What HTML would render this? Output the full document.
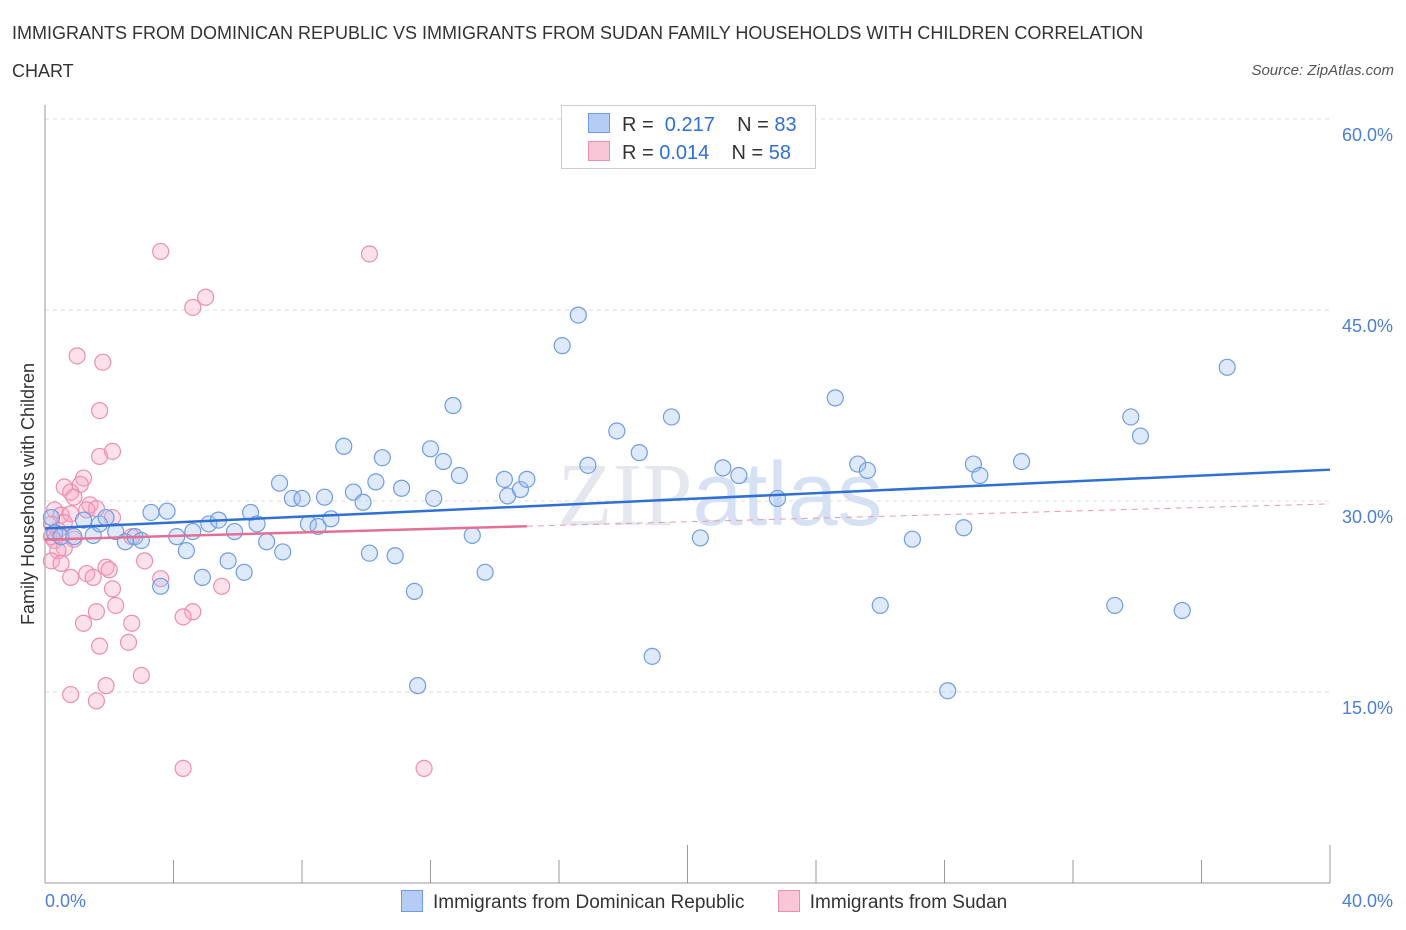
<!DOCTYPE html>
<html><head><meta charset="utf-8"><style>
body{margin:0;background:#fff;font-family:"Liberation Sans",sans-serif;}
.t{position:absolute;}
</style></head><body>
<div style="position:relative;width:1406px;height:930px;overflow:hidden">
<div class="t" style="left:12px;top:14px;font-size:18px;color:#333;line-height:38px;width:1180px">IMMIGRANTS FROM DOMINICAN REPUBLIC VS IMMIGRANTS FROM SUDAN FAMILY HOUSEHOLDS WITH CHILDREN CORRELATION CHART</div>
<div class="t" style="right:12px;top:62px;font-size:15px;color:#555;font-style:italic">Source: ZipAtlas.com</div>
<svg id="svg" width="1406" height="930" style="position:absolute;left:0;top:0"></svg>
</div>
<script>
const yTicks=[15,30,45,60];
const xTickLabels=["0.0%","40.0%"];
const blueX=[0.2,0.3,0.5,0.9,1.2,1.5,1.7,1.9,2.2,2.5,2.8,3.0,3.3,3.6,3.8,4.1,4.4,4.6,4.9,5.1,5.4,5.7,5.9,6.2,6.4,6.6,6.9,7.3,7.4,7.7,8.0,8.2,8.5,8.7,8.9,9.3,9.6,9.9,10.1,10.3,10.5,10.9,11.1,11.5,11.6,12.0,12.1,12.4,12.7,12.9,13.3,13.7,14.3,14.4,14.8,15.0,16.1,16.6,16.9,17.8,18.5,18.9,19.5,20.4,21.1,21.6,22.8,24.6,25.3,25.6,26.0,27.0,28.1,28.6,28.9,29.1,30.4,33.3,33.8,34.1,35.4,36.8];
const blueY=[28.7,27.5,27.2,27.2,28.5,27.3,28.2,28.7,27.6,26.8,27.2,26.9,29.1,23.3,29.2,27.2,26.1,27.6,24.0,28.2,28.5,25.3,27.6,24.4,29.1,28.2,26.8,31.4,26.0,30.2,30.2,28.2,28.0,30.3,28.6,34.3,30.7,29.9,25.9,31.5,33.4,25.7,31.0,22.9,15.5,34.1,30.2,33.1,37.5,32.0,27.3,24.4,31.7,30.4,30.9,31.7,42.2,44.6,32.8,35.5,33.8,17.8,36.6,27.1,32.6,32.0,30.2,38.1,32.9,32.4,21.8,27.0,15.1,27.9,32.9,32.0,33.1,21.8,36.6,35.1,21.4,40.5];
const pinkX=[3.6,10.1,5.0,4.6,1.0,1.8,1.7,2.1,1.7,1.2,1.1,0.6,0.8,0.9,1.4,1.6,1.3,0.3,0.5,0.8,2.1,0.2,0.4,0.2,0.3,2.7,0.6,0.4,0.2,0.5,3.1,1.9,2.0,1.3,1.5,0.8,3.6,5.5,2.1,2.2,1.6,4.6,4.3,2.7,1.2,2.6,1.7,3.0,1.9,0.8,1.6,4.3,11.8,0.6,0.9];
const pinkY=[49.6,49.4,46.0,45.2,41.4,40.9,37.1,33.9,33.5,31.8,31.3,31.1,30.7,30.3,29.7,29.4,29.3,29.3,28.9,29.0,28.7,28.2,27.7,27.2,26.9,27.2,26.3,26.1,25.3,25.1,25.3,24.8,24.6,24.3,24.0,24.0,23.9,23.3,23.1,21.8,21.3,21.3,20.9,20.4,20.4,18.9,18.6,16.3,15.5,14.8,14.3,9.0,9.0,28.3,27.0];
const NS="http://www.w3.org/2000/svg";
const svg=document.getElementById('svg');
const X0=45,X1=1330,Y0=883,YTOP=119;
const sx=v=>X0+v/40*(X1-X0);
const sy=v=>Y0-v/60*(Y0-YTOP);
function mk(tag,attrs,parent){const e=document.createElementNS(NS,tag);for(const k in attrs)e.setAttribute(k,attrs[k]);(parent||svg).appendChild(e);return e;}
for(const t of yTicks){
 const g=mk('line',{x1:X0,x2:X1,y1:sy(t),y2:sy(t),stroke:'#ddd','stroke-dasharray':'4,4'});
 
 
 const l=mk('text',{x:1393,y:sy(t)+22,'text-anchor':'end','font-size':18,fill:'#4a7fd4','font-family':'Liberation Sans'});
 l.textContent=t.toFixed(1)+'%';
 
 
}
mk('line',{x1:X0,x2:X0,y1:105,y2:Y0,stroke:'#999'});
mk('line',{x1:X0,x2:X1,y1:Y0,y2:Y0,stroke:'#999'});
for(let i=1;i<=10;i++){const x=sx(i*4);const tk=mk('line',{x1:x,x2:x,y1:Y0,y2:(i%5==0)?845:860,stroke:'#999'});
 
 }
let xl=mk('text',{x:45,y:907,'font-size':18,fill:'#4a7fd4','font-family':'Liberation Sans'});xl.textContent=xTickLabels[0];


xl=mk('text',{x:1393,y:907,'text-anchor':'end','font-size':18,fill:'#4a7fd4','font-family':'Liberation Sans'});xl.textContent=xTickLabels[1];


const yt=mk('text',{x:34,y:494,'text-anchor':'middle','font-size':18,fill:'#333',transform:'rotate(-90 34 494)','font-family':'Liberation Sans'});yt.textContent='Family Households with Children';


const wm=mk('text',{x:720,y:525,'text-anchor':'middle','font-size':90,fill:'#e4e8ee','font-family':'Liberation Serif'});
wm.innerHTML='ZIP<tspan fill="#d6e2f3" font-family="Liberation Sans">atlas</tspan>';


function fit(xs,ys){const n=xs.length;let mx=0,my=0;for(let i=0;i<n;i++){mx+=xs[i];my+=ys[i];}mx/=n;my/=n;let a=0,b=0;for(let i=0;i<n;i++){a+=(xs[i]-mx)*(ys[i]-my);b+=(xs[i]-mx)**2;}const s=a/b;return [s,my-s*mx];}
function pts(xs,ys,fill,stroke,name){for(let i=0;i<xs.length;i++){const c=mk('circle',{cx:sx(xs[i]),cy:sy(ys[i]),r:8,fill:fill,stroke:stroke,'stroke-width':1.2});
 
 }}
pts(pinkX,pinkY,'rgba(246,170,196,0.35)','#ec8fb0','sudan-point');
pts(blueX,blueY,'rgba(160,192,240,0.35)','#6f9de3','dominican-point');
const [bs,bi]=fit(blueX,blueY);
let ln=mk('line',{x1:sx(0),y1:sy(bi),x2:sx(40),y2:sy(bi+bs*40),stroke:'#2f6fd6','stroke-width':2.5});


const [ps,pi]=fit(pinkX,pinkY);
ln=mk('line',{x1:sx(0),y1:sy(pi),x2:sx(15),y2:sy(pi+ps*15),stroke:'#e46f96','stroke-width':2.5});


ln=mk('line',{x1:sx(15),y1:sy(pi+ps*15),x2:sx(40),y2:sy(pi+ps*40),stroke:'#e89ab4','stroke-width':1,'stroke-dasharray':'6,5'});


</script>
<div class="t" style="left:561px;top:105px;width:253px;height:62px;border:1px solid #ccc;background:#fff;font-size:20px;color:#333">
 <div style="position:absolute;left:26px;top:7px;white-space:nowrap"><span style="display:inline-block;width:20px;height:18px;background:#b5cdf5;border:1px solid #6f9de3;vertical-align:-2px;margin-right:12px"></span>R = &nbsp;<span style="color:#2f6fd6">0.217</span> &nbsp;&nbsp; N = <span style="color:#2f6fd6">83</span></div>
 <div style="position:absolute;left:26px;top:35px;white-space:nowrap"><span style="display:inline-block;width:20px;height:18px;background:#f8c6d6;border:1px solid #ec8fb0;vertical-align:-2px;margin-right:12px"></span>R = <span style="color:#2f6fd6">0.014</span> &nbsp;&nbsp; N = <span style="color:#2f6fd6">58</span></div>
</div>
<div class="t" style="left:401px;top:890px;font-size:19px;color:#333;white-space:nowrap">
 <span><span style="display:inline-block;width:20px;height:20px;background:#b5cdf5;border:1px solid #6f9de3;vertical-align:-4px;margin-right:10px"></span>Immigrants from Dominican Republic</span>
 <span style="margin-left:28px"><span style="display:inline-block;width:20px;height:20px;background:#f8c6d6;border:1px solid #ec8fb0;vertical-align:-4px;margin-right:10px"></span>Immigrants from Sudan</span>
</div>
</body></html>
